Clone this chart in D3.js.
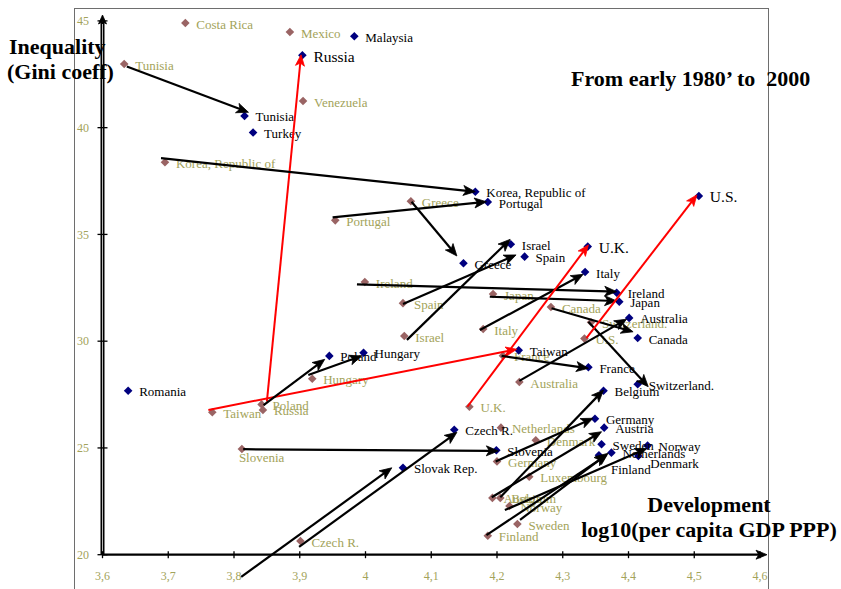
<!DOCTYPE html>
<html>
<head>
<meta charset="utf-8">
<script src="https://cdn.jsdelivr.net/npm/d3@7"></script>
<style>
  html, body { margin: 0; padding: 0; background: #fff; }
  svg { display: block; font-family: "Liberation Serif", "Times New Roman", serif; }
</style>
</head>
<body>
<svg id="chart" width="841" height="589"></svg>
<script>
// Early 1980s observations: log10 GDP per capita (PPP) and Gini coefficient
const earlyNames = ["Costa Rica", "Mexico", "Tunisia", "Venezuela", "Korea, Republic of", "Greece", "Portugal",
  "Ireland", "Spain", "Israel", "Japan", "Italy", "Canada", "Switzerland.", "U.S.", "France", "Australia",
  "Hungary", "Poland", "Russia", "Taiwan", "Slovenia", "Czech R.", "U.K.", "Netherlands", "Denmark",
  "Germany", "Luxembourg", "Austria", "Belgium", "Norway", "Sweden", "Finland"];
const earlyDev = [3.726, 3.885, 3.633, 3.905, 3.695, 4.069, 3.954,
  3.999, 4.057, 4.059, 4.194, 4.179, 4.282, 4.343, 4.333, 4.209, 4.234,
  3.919, 3.842, 3.844, 3.767, 3.812, 3.901, 4.158, 4.206, 4.259,
  4.200, 4.249, 4.193, 4.205, 4.219, 4.231, 4.186];
const earlyGini = [44.90, 44.48, 42.98, 41.25, 38.38, 36.55, 35.66,
  32.77, 31.78, 30.24, 32.21, 30.57, 31.60, 30.89, 30.12, 29.32, 28.09,
  28.24, 27.04, 26.78, 26.67, 24.95, 20.64, 26.93, 25.95, 25.36,
  24.37, 23.65, 22.66, 22.66, 22.28, 21.44, 20.89];

// 2000 observations
const lateNames = ["Malaysia", "Russia", "Tunisia", "Turkey", "Korea, Republic of", "Portugal", "Israel",
  "Spain", "Greece", "U.K.", "Italy", "Ireland", "Japan", "Australia", "Canada", "Taiwan", "France",
  "Switzerland.", "Belgium", "U.S.", "Romania", "Poland", "Hungary", "Czech R.", "Slovenia", "Slovak Rep.",
  "Germany", "Austria", "Sweden", "Netherlands", "Finland", "Norway", "Denmark"];
const lateDev = [3.983, 3.904, 3.816, 3.829, 4.167, 4.186, 4.221,
  4.242, 4.149, 4.338, 4.334, 4.382, 4.386, 4.401, 4.414, 4.233, 4.339,
  4.414, 4.362, 4.507, 3.639, 3.945, 3.997, 4.135, 4.199, 4.057,
  4.349, 4.363, 4.359, 4.374, 4.355, 4.429, 4.415];
const lateGini = [44.28, 43.39, 40.55, 39.77, 37.00, 36.52, 34.54,
  33.96, 33.65, 34.43, 33.24, 32.27, 31.85, 31.09, 30.15, 29.57, 28.78,
  27.98, 27.68, 36.80, 27.68, 29.31, 29.46, 25.85, 24.89, 24.07,
  26.37, 25.95, 25.17, 24.78, 24.66, 25.11, 24.62];

// Trajectory arrows (start and end in data units)
const arrowNames = ["Tunisia", "Russia", "Taiwan", "Korea, Republic of", "Portugal", "Greece", "Ireland",
  "Spain", "Israel", "Japan", "Italy", "Canada", "Switzerland.", "U.S.", "U.K.", "France", "Australia",
  "Hungary", "Poland", "Slovenia", "Czech R.", "Slovak Rep.", "Belgium", "Germany", "Austria",
  "Finland", "Sweden", "Norway"];
const arrowFromDev = [3.637, 3.850, 3.761, 3.689, 3.950, 4.070, 3.987,
  4.057, 4.063, 4.189, 4.174, 4.283, 4.339, 4.336, 4.155, 4.207, 4.234,
  3.913, 3.845, 3.814, 3.899, 3.811, 4.205, 4.198, 4.192,
  4.184, 4.235, 4.212];
const arrowFromGini = [42.86, 27.17, 26.78, 38.57, 35.80, 36.53, 32.66,
  31.74, 30.06, 32.08, 30.52, 31.54, 30.91, 30.14, 26.93, 29.31, 28.14,
  28.42, 27.01, 24.94, 20.37, 18.96, 22.69, 24.37, 22.69,
  20.92, 21.63, 22.09];
const arrowToDev = [3.822, 3.902, 4.230, 4.167, 4.184, 4.139, 4.382,
  4.229, 4.220, 4.382, 4.331, 4.407, 4.430, 4.504, 4.339, 4.339, 4.397,
  3.994, 3.938, 4.202, 4.139, 4.040, 4.362, 4.346, 4.359,
  4.367, 4.369, 4.428];
const arrowToGini = [40.72, 43.41, 29.62, 37.00, 36.53, 33.99, 32.32,
  34.04, 34.77, 31.88, 33.13, 30.44, 27.87, 36.85, 34.51, 28.73, 31.03,
  29.31, 29.15, 24.86, 25.73, 24.07, 27.71, 26.39, 25.76,
  24.67, 24.75, 24.98];
const highlighted = ["Russia", "Taiwan", "U.S.", "U.K."];

const xTicks = [3.6, 3.7, 3.8, 3.9, 4.0, 4.1, 4.2, 4.3, 4.4, 4.5, 4.6];
const yTicks = [20, 25, 30, 35, 40, 45];

// ---- layout and styles ----
const OLIVE = "#a3a35a";
const EARLY_MARK = "#9a6464";
const LATE_MARK = "#00007f";
const labelNudge = { // [dx, dy] for labels that sit away from the default spot
  early: { "Slovenia": [-3, 8] },
  late: { "Denmark": [12, 7], "Finland": [12, 14] }
};
const bigLabels = ["Russia", "U.K.", "U.S."];

const svg = d3.select("#chart");
const x = d3.scaleLinear().domain([3.6, 4.6]).range([102.5, 760]);
const y = d3.scaleLinear().domain([20, 45]).range([554.7, 20.9]);

// plot frame
svg.append("rect").attr("x", 74.5).attr("y", 8.5).attr("width", 694).attr("height", 600)
  .attr("fill", "none").attr("stroke", "#6e6e6e").attr("stroke-width", 1);

// filled arrowhead helper
function arrowHead(g, x0, y0, x1, y1, len, half, color) {
  const a = Math.atan2(y1 - y0, x1 - x0);
  const bx = x1 - len * Math.cos(a), by = y1 - len * Math.sin(a);
  const px = -Math.sin(a) * half, py = Math.cos(a) * half;
  g.append("path")
    .attr("d", `M${x1},${y1}L${bx + px},${by + py}L${bx + len * 0.25 * Math.cos(a)},${by + len * 0.25 * Math.sin(a)}L${bx - px},${by - py}Z`)
    .attr("fill", color).attr("stroke", color).attr("stroke-width", 0.8);
  return [bx + len * 0.3 * Math.cos(a), by + len * 0.3 * Math.sin(a)];
}

// ---- axes ----
const axes = svg.append("g");
const x0 = x(3.6), yBase = y(20);
// y axis: double rule with arrow on top
axes.append("line").attr("x1", x0).attr("x2", x0).attr("y1", yBase).attr("y2", 22)
  .attr("stroke", "#000").attr("stroke-width", 4);
axes.append("line").attr("x1", x0).attr("x2", x0).attr("y1", yBase - 1).attr("y2", 24)
  .attr("stroke", "#b8b8b8").attr("stroke-width", 1);
arrowHead(axes, x0, 60, x0, 15, 9, 4, "#000");
yTicks.forEach(t => {
  axes.append("line").attr("x1", x0 - 5).attr("x2", x0 + 5).attr("y1", y(t)).attr("y2", y(t))
    .attr("stroke", "#000").attr("stroke-width", 1.3);
  axes.append("text").attr("x", 89).attr("y", y(t)).attr("dy", "0.35em")
    .attr("text-anchor", "end").attr("font-size", 12).attr("fill", OLIVE).text(t);
});
// x axis with arrow on the right
const xEnd = arrowHead(axes, 700, yBase, 767, yBase, 11, 4.5, "#000");
axes.append("line").attr("x1", x0).attr("x2", xEnd[0]).attr("y1", yBase).attr("y2", yBase)
  .attr("stroke", "#000").attr("stroke-width", 2.2);
xTicks.forEach(t => {
  axes.append("line").attr("x1", x(t)).attr("x2", x(t)).attr("y1", yBase - 3.5).attr("y2", yBase + 3.5)
    .attr("stroke", "#000").attr("stroke-width", 1.3);
  axes.append("text").attr("x", x(t)).attr("y", 576).attr("dy", "0.35em")
    .attr("text-anchor", "middle").attr("font-size", 12).attr("fill", OLIVE)
    .text(t === 4 ? "4" : String(t).replace(".", ","));
});

// ---- markers ----
const diamond = (cx, cy, r) => `M${cx},${cy - r}L${cx + r},${cy}L${cx},${cy + r}L${cx - r},${cy}Z`;

function drawSeries(names, devs, ginis, markColor, labelColor, nudges, cls) {
  const g = svg.append("g").attr("class", cls);
  const rows = names.map((n, i) => ({ name: n, dev: devs[i], gini: ginis[i] }));
  g.selectAll("path").data(rows).join("path")
    .attr("d", d => diamond(x(d.dev), y(d.gini), 4.3))
    .attr("fill", markColor);
  g.selectAll("text").data(rows).join("text")
    .attr("x", d => x(d.dev) + (nudges[d.name] ? nudges[d.name][0] : 11))
    .attr("y", d => y(d.gini) + (nudges[d.name] ? nudges[d.name][1] : 1))
    .attr("dy", "0.35em")
    .attr("font-size", d => (cls === "late" && bigLabels.includes(d.name)) ? 15.5 : 13)
    .attr("fill", labelColor)
    .text(d => d.name);
}
drawSeries(earlyNames, earlyDev, earlyGini, EARLY_MARK, OLIVE, labelNudge.early, "early");
drawSeries(lateNames, lateDev, lateGini, LATE_MARK, "#000", labelNudge.late, "late");

// ---- trajectory arrows ----
const arrows = svg.append("g");
arrowNames.forEach((n, i) => {
  const red = highlighted.includes(n);
  const color = red ? "#ff0000" : "#000";
  const ax0 = x(arrowFromDev[i]), ay0 = y(arrowFromGini[i]);
  const ax1 = x(arrowToDev[i]), ay1 = y(arrowToGini[i]);
  const base = arrowHead(arrows, ax0, ay0, ax1, ay1, red ? 11 : 12, red ? 4.5 : 5, color);
  arrows.append("line").attr("x1", ax0).attr("y1", ay0).attr("x2", base[0]).attr("y2", base[1])
    .attr("stroke", color).attr("stroke-width", red ? 2 : 2.2);
});

// ---- titles ----
const titleStyle = t => t.attr("font-weight", "bold").attr("font-size", 22).attr("fill", "#000");
titleStyle(svg.append("text").attr("x", 9).attr("y", 54)).text("Inequality");
titleStyle(svg.append("text").attr("x", 7).attr("y", 79)).text("(Gini coeff)");
titleStyle(svg.append("text").attr("x", 571).attr("y", 86).style("white-space", "pre"))
  .text("From early 1980\u2019 to  2000");
titleStyle(svg.append("text").attr("x", 709).attr("y", 512).attr("text-anchor", "middle")).text("Development");
titleStyle(svg.append("text").attr("x", 709).attr("y", 537).attr("text-anchor", "middle"))
  .text("log10(per capita GDP PPP)");
</script>
</body>
</html>
